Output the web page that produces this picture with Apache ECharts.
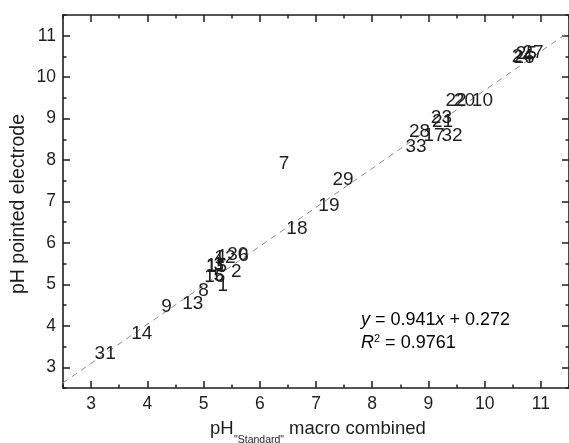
<!DOCTYPE html>
<html>
<head>
<meta charset="utf-8">
<script src="https://cdn.jsdelivr.net/npm/echarts@6/dist/echarts.min.js"></script>
<style>
  html, body { margin: 0; padding: 0; background: #fff; }
  #chart { width: 569px; height: 443px; }
</style>
</head>
<body>
<div id="chart"></div>
<script>
// Sample numbers and their pH readings
const sampleIds = ['1','2','3','4','5','6','7','8','9','10','11','12','13','14','15','16','17',
                   '18','19','20','21','22','23','24','25','26','27','28','29','30','31','32','33'];
// pH measured with the standard macro combined electrode
const standardPH = [5.34, 5.58, 5.27, 5.30, 5.27, 5.71, 6.43, 5.00, 4.34, 9.96, 5.22, 5.38, 4.81, 3.90, 5.23, 5.20, 9.10,
                    6.66, 7.23, 9.64, 9.25, 9.49, 9.23, 10.67, 10.74, 10.70, 10.86, 8.84, 7.48, 5.61, 3.25, 9.42, 8.78];
// pH measured with the pointed electrode
const electrodePH = [4.96, 5.31, 5.47, 5.66, 5.20, 5.68, 7.92, 4.85, 4.45, 9.42, 5.44, 5.64, 4.54, 3.82, 5.42, 5.18, 8.58,
                     6.35, 6.89, 9.42, 8.92, 9.42, 9.01, 10.49, 10.56, 10.46, 10.58, 8.68, 7.52, 5.71, 3.32, 8.58, 8.32];
// Linear fit
const fitSlope = 0.941;
const fitIntercept = 0.272;
const fitR2 = '0.9761';
// Axis ticks
const xTickValues = [3, 4, 5, 6, 7, 8, 9, 10, 11];
const yTickValues = [3, 4, 5, 6, 7, 8, 9, 10, 11];
const axisMin = 2.5, axisMax = 11.5;

const INK = '#1e1e1e';
const FONT = 'Liberation Sans, Arial, sans-serif';

function axisPair(position, ticks, withLabels) {
  const base = {
    type: 'value', position: position, min: axisMin, max: axisMax, interval: 0.5,
    splitLine: { show: false }
  };
  const minor = Object.assign({}, base, {
    axisLine: { show: true, onZero: false, lineStyle: { color: INK, width: 1.6 } },
    axisTick: { show: true, inside: true, length: 3.5, lineStyle: { color: INK, width: 1.5 } },
    axisLabel: { show: false }
  });
  const major = Object.assign({}, base, {
    axisLine: { show: false, onZero: false },
    axisTick: { show: true, inside: true, length: 7, customValues: ticks,
                lineStyle: { color: INK, width: 1.5 } },
    axisLabel: withLabels
      ? { show: true, customValues: ticks, color: INK, fontSize: 17.5, fontFamily: FONT, margin: 7 }
      : { show: false }
  });
  return [minor, major];
}

const chart = echarts.init(document.getElementById('chart'), null, { renderer: 'canvas' });

const labelData = sampleIds.map((id, i) => [standardPH[i], electrodePH[i], id]);
const fitLine = [axisMin, axisMax].map(x => [x, fitSlope * x + fitIntercept]);

chart.setOption({
  animation: false,
  backgroundColor: '#fff',
  grid: { left: 63, top: 15, width: 507, height: 373, containLabel: false },
  xAxis: [
    ...axisPair('bottom', xTickValues, true),
    ...axisPair('top', xTickValues, false)
  ],
  yAxis: [
    ...axisPair('left', yTickValues, true),
    ...axisPair('right', yTickValues, false)
  ],
  series: [
    {
      type: 'line',
      xAxisIndex: 0, yAxisIndex: 0,
      data: fitLine,
      showSymbol: false,
      silent: true,
      lineStyle: { color: '#8c8c8c', width: 1, type: [6, 5] },
      z: 1
    },
    {
      type: 'scatter',
      xAxisIndex: 0, yAxisIndex: 0,
      data: labelData,
      symbolSize: 1,
      itemStyle: { color: 'rgba(0,0,0,0)', opacity: 1 },
      label: {
        show: true,
        position: 'inside',
        formatter: p => p.data[2],
        color: INK,
        opacity: 1,
        textBorderWidth: 0,
        fontSize: 19,
        fontFamily: FONT
      },
      z: 2
    }
  ],
  graphic: [
    {
      type: 'text', x: 19, y: 204, rotation: Math.PI / 2,
      style: { text: 'pH pointed electrode', font: '19.5px ' + FONT, fill: INK,
               align: 'center', verticalAlign: 'middle' }
    },
    {
      type: 'text', x: 210, y: 429,
      style: { text: 'pH', font: '18.5px ' + FONT, fill: INK, align: 'left', verticalAlign: 'middle' }
    },
    {
      type: 'text', x: 234, y: 440,
      style: { text: '"Standard"', font: '10.5px ' + FONT, fill: INK, align: 'left', verticalAlign: 'middle' }
    },
    {
      type: 'text', x: 289, y: 429,
      style: { text: 'macro combined', font: '18.5px ' + FONT, fill: INK, align: 'left', verticalAlign: 'middle' }
    },
    {
      type: 'text', x: 361, y: 320,
      style: {
        text: '{i|y}{n| = ' + fitSlope.toFixed(3) + '}{i|x}{n| + ' + fitIntercept.toFixed(3) + '}',
        align: 'left', verticalAlign: 'middle',
        rich: {
          i: { fontSize: 18, fontStyle: 'italic', fontFamily: FONT, color: INK },
          n: { fontSize: 18, fontFamily: FONT, color: INK }
        }
      }
    },
    {
      type: 'text', x: 361, y: 343,
      style: {
        text: '{i|R}{p|2}{n| = ' + fitR2 + '}',
        align: 'left', verticalAlign: 'middle',
        rich: {
          i: { fontSize: 18, fontStyle: 'italic', fontFamily: FONT, color: INK, lineHeight: 20 },
          p: { fontSize: 11, fontFamily: FONT, color: INK, verticalAlign: 'top', lineHeight: 12 },
          n: { fontSize: 18, fontFamily: FONT, color: INK, lineHeight: 20 }
        }
      }
    }
  ]
});
</script>
</body>
</html>
